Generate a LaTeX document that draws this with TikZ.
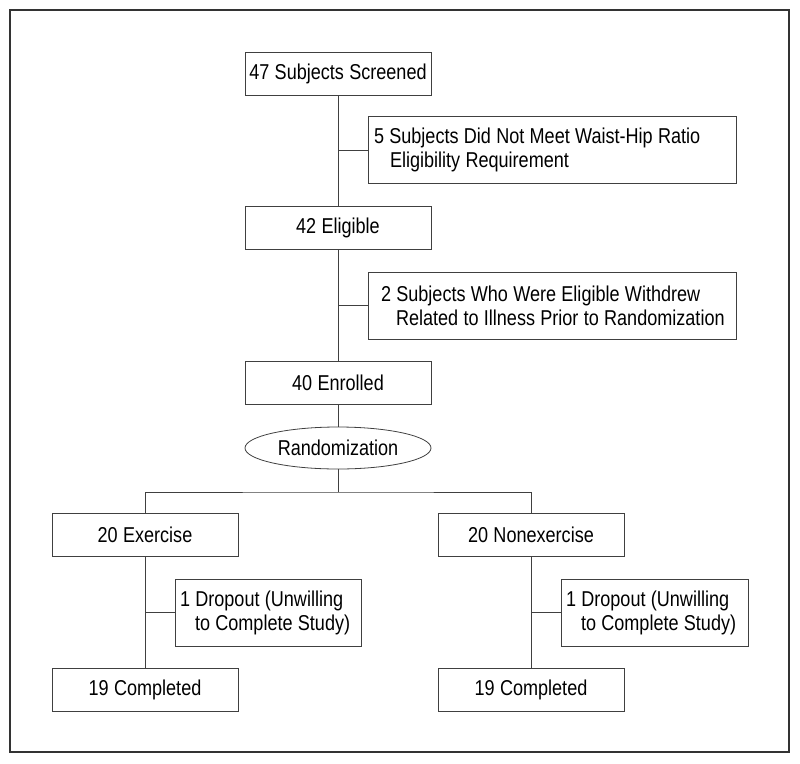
\documentclass[tikz,border=0pt]{standalone}
\usepackage{fontspec}
\setmainfont{Liberation Sans}[FakeStretch=0.84]
\usetikzlibrary{shapes.geometric}
\definecolor{ln}{gray}{0.25}
\newcommand\diagfont{\fontsize{21.5}{24}\selectfont\spaceskip=5.3pt plus 1pt minus 1pt\relax}
\newcommand\fixsp{\spaceskip=5.3pt plus 1pt minus 1pt\relax}
\tikzset{
  txt/.style={font=\diagfont},
  box/.style={txt, draw=ln, line width=0.8pt, rectangle, minimum width=186pt, minimum height=43pt, inner sep=0pt},
  wbox/.style={txt, draw=ln, line width=0.8pt, rectangle, minimum height=67pt, align=left, inner ysep=0pt},
  oval/.style={txt, draw=ln, line width=0.8pt, ellipse, minimum width=186pt, minimum height=42pt, inner sep=0pt},
  conn/.style={draw=ln, line width=0.8pt}
}
\begin{document}
\begin{tikzpicture}[x=1pt,y=-1pt]
\useasboundingbox (0,0) rectangle (800,763);
\draw[draw=black!80, line width=1.6pt] (10,10) rectangle (789,752);
\node[box] (s) at (338,73.5) {47 Subjects Screened};
\node[wbox, inner xsep=6pt, text width=356pt] (x1) at (552,150) {\fixsp\mbox{5 Subjects Did Not Meet Waist-Hip Ratio}\\\mbox{\hspace*{16pt}Eligibility Requirement}};
\node[box] (el) at (338,227.5) {42 Eligible};
\node[wbox, inner xsep=13pt, text width=342pt] (x2) at (552,305.5) {\fixsp\mbox{2 Subjects Who Were Eligible Withdrew}\\\mbox{\hspace*{15pt}Related to Illness Prior to Randomization}};
\node[box] (en) at (338,383) {40 Enrolled};
\node[oval] (r) at (338,448) {Randomization};
\coordinate (bj) at (338,492);
\node[box] (ex) at (145,535) {20 Exercise};
\node[box] (nx) at (531,535) {20 Nonexercise};
\node[wbox, inner xsep=5pt, text width=176pt] (dl) at (268,612.5) {\fixsp\mbox{1 Dropout (Unwilling}\\\mbox{\hspace*{15pt}to Complete Study)}};
\node[wbox, inner xsep=5pt, text width=177pt] (dr) at (654.5,612.5) {\fixsp\mbox{1 Dropout (Unwilling}\\\mbox{\hspace*{15pt}to Complete Study)}};
\node[box] (cl) at (145,689.5) {19 Completed};
\node[box] (cr) at (531,689.5) {19 Completed};
\draw[conn] (s) -- (el);
\draw[conn] (x1.west) -- (x1.west -| s.south);
\draw[conn] (el) -- (en);
\draw[conn] (x2.west) -- (x2.west -| el.south);
\draw[conn] (en) -- (r);
\draw[conn] (r.south) -- (bj);
\draw[conn] (ex.north) |- (bj) -| (nx.north);
\draw[conn] (ex) -- (cl);
\draw[conn] (dl.west) -- (dl.west -| ex.south);
\draw[conn] (nx) -- (cr);
\draw[conn] (dr.west) -- (dr.west -| nx.south);
\end{tikzpicture}
\end{document}
